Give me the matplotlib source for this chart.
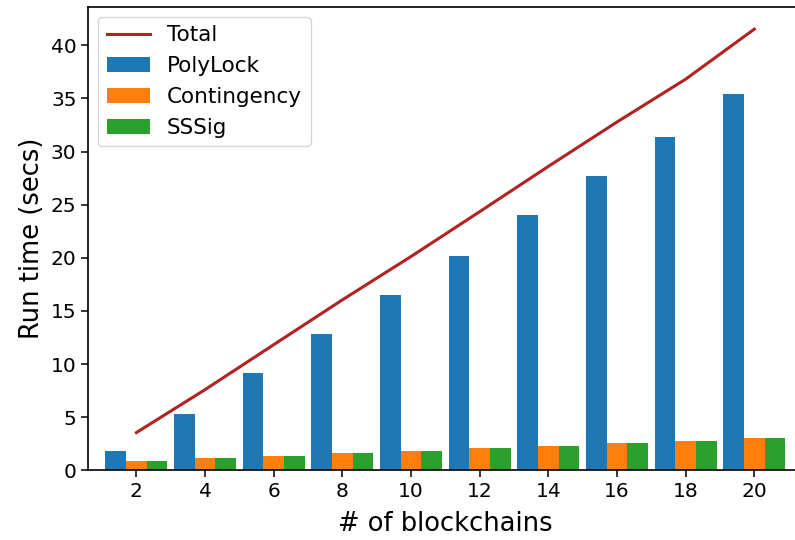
import matplotlib
matplotlib.use("Agg")
import matplotlib.pyplot as plt
import numpy as np

# number of blockchains on the x axis
chains = [2, 4, 6, 8, 10, 12, 14, 16, 18, 20]

# run times in seconds
polylock = [1.81, 5.29, 9.14, 12.8, 16.5, 20.14, 24.0, 27.66, 31.33, 35.46]
contingency = [0.87, 1.15, 1.34, 1.62, 1.81, 2.1, 2.3, 2.56, 2.74, 3.03]
sssig = [0.87, 1.15, 1.34, 1.62, 1.81, 2.1, 2.3, 2.56, 2.74, 3.03]
total = [3.55, 7.59, 11.82, 16.04, 20.12, 24.34, 28.6, 32.78, 36.81, 41.52]

x = np.arange(len(chains))
w = 0.3

fig = plt.figure(figsize=(7.95, 5.4), dpi=100)
# right edge of the axes sits just outside the canvas, as in the original crop
ax = fig.add_axes([0.1111, 0.1291, 0.8982, 0.8579])

ax.plot(x, total, color="firebrick", lw=2.2, label="Total")
ax.bar(x - w, polylock, w, color="#1f77b4", label="PolyLock")
ax.bar(x, contingency, w, color="#ff7f0e", label="Contingency")
ax.bar(x + w, sssig, w, color="#2ca02c", label="SSSig")

ax.set_xlim(-0.7, 9.7)
ax.set_ylim(0, 43.6)
ax.set_xticks(x)
ax.set_xticklabels([str(c) for c in chains])
ax.set_yticks(np.arange(0, 45, 5))
ax.tick_params(labelsize=14.5, length=5, width=1.1)
for s in ax.spines.values():
    s.set_linewidth(1.2)
ax.spines["right"].set_visible(False)

ax.set_xlabel("# of blockchains", fontsize=18.5, labelpad=7)
ax.set_ylabel("Run time (secs)", fontsize=18.5)

ax.legend(loc="upper left", fontsize=15.5, borderaxespad=0.45)

fig.savefig("out.png", dpi=100)
